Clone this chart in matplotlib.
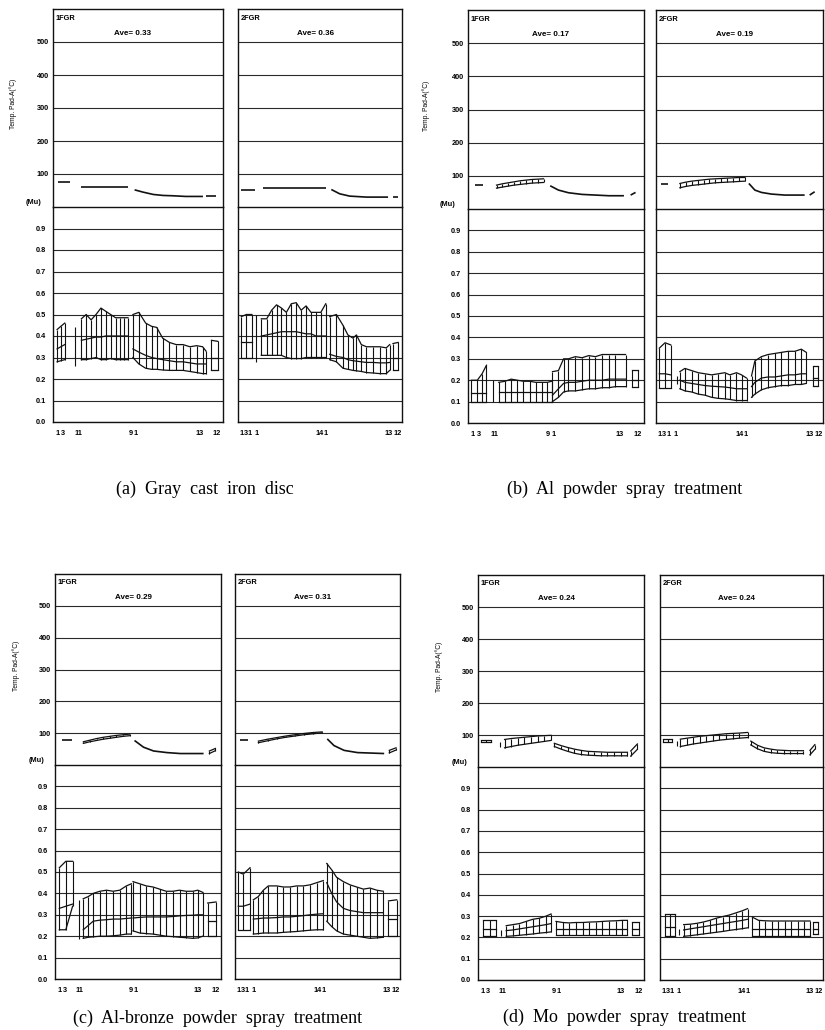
import matplotlib
matplotlib.use("Agg")
import matplotlib.pyplot as plt

# ---------------------------------------------------------------- data
# x: position along the test sequence (0-100 across each panel)
# hi / lo: band limits, mid: middle (mean) line; lo=None -> plain line

def S(x, hi, lo=None, mid=None):
    return dict(x=x, hi=hi, lo=lo, mid=mid)

TEMP_TICKS = [100, 200, 300, 400, 500]
MU_TICKS = [0.0, 0.1, 0.2, 0.3, 0.4, 0.5, 0.6, 0.7, 0.8, 0.9]
MU_LABELS = ['0.0', '0.1', '0.2', '0.3', '0.4', '0.5', '0.6', '0.7', '0.8', '0.9']
XT1 = [2.5, 6, 15, 45.5, 48.5, 86, 96.5]
XL1 = ['1', '3', '11', '9', '1', '13', '12']
XT2 = [2, 5, 7.3, 11.5, 50, 53.5, 92, 97.5]
XL2 = ['1', '3', '1', '1', '14', '1', '13', '12']
AVES = [['0.33', '0.36'], ['0.17', '0.19'], ['0.29', '0.31'], ['0.24', '0.24']]
CAPTIONS = ['(a)  Gray  cast  iron  disc', '(b)  Al  powder  spray  treatment',
            '(c)  Al-bronze  powder  spray  treatment', '(d)  Mo  powder  spray  treatment']

# (a) gray cast iron
A1_MU = [
    S([2.4, 4.6, 6.9], [0.43, 0.445, 0.46], [0.28, 0.285, 0.29], [0.34, 0.35, 0.36]),
    S([12.7], [0.44], [0.26]),
    S([16.7, 19.5, 22.4, 25.3, 28.2, 31.0, 33.9, 36.8, 39.6, 42.0, 44.1],
      [0.48, 0.50, 0.475, 0.50, 0.53, 0.515, 0.50, 0.485, 0.485, 0.485, 0.485],
      [0.29, 0.29, 0.295, 0.30, 0.29, 0.29, 0.295, 0.29, 0.29, 0.29, 0.29],
      [0.38, 0.385, 0.39, 0.395, 0.395, 0.40, 0.40, 0.40, 0.40, 0.40, 0.40]),
    S([47, 50.5, 54.5, 58, 61, 64.5, 68.5, 72.5, 76.5, 80.5, 84.5, 88, 90],
      [0.50, 0.51, 0.46, 0.445, 0.44, 0.39, 0.37, 0.36, 0.36, 0.35, 0.355, 0.35, 0.33],
      [0.30, 0.27, 0.25, 0.245, 0.245, 0.242, 0.24, 0.24, 0.24, 0.235, 0.23, 0.225, 0.225],
      [0.34, 0.325, 0.31, 0.30, 0.295, 0.29, 0.285, 0.28, 0.28, 0.275, 0.27, 0.27, 0.27]),
    S([93.2, 97], [0.38, 0.375], [0.24, 0.24], [0.30, 0.30]),
]
A1_T = [
    S([2.9, 9.8], [75, 75]),
    S([16.3, 44.1], [62, 62]),
    S([48, 53, 59, 64.8, 70.6, 78, 88.2], [52, 45, 38, 35, 34, 32, 32]),
    S([90, 96], [33, 33]),
]
A2_MU = [
    S([2, 5.1, 8.5], [0.49, 0.50, 0.50], [0.30, 0.30, 0.30], [0.37, 0.37, 0.37]),
    S([11.2], [0.50], [0.28]),
    S([14.2, 17.5, 20.5, 23.5, 26.5, 29.5, 32.5, 35.5, 38.5, 41.5, 44.5, 47.5, 50.5, 53.5],
      [0.48, 0.48, 0.52, 0.545, 0.53, 0.51, 0.55, 0.555, 0.52, 0.54, 0.51, 0.51, 0.51, 0.55],
      [0.31, 0.31, 0.31, 0.31, 0.31, 0.30, 0.295, 0.295, 0.295, 0.30, 0.30, 0.30, 0.30, 0.30],
      [0.40, 0.405, 0.41, 0.415, 0.42, 0.42, 0.42, 0.42, 0.415, 0.41, 0.41, 0.40, 0.40, 0.40]),
    S([55.9, 60, 64, 67, 70.1, 72.2, 75.2, 78.3, 82.3, 86.4, 90.4, 92.5],
      [0.49, 0.50, 0.45, 0.405, 0.39, 0.405, 0.36, 0.35, 0.35, 0.35, 0.345, 0.36],
      [0.29, 0.28, 0.25, 0.245, 0.24, 0.238, 0.235, 0.23, 0.228, 0.225, 0.225, 0.24],
      [0.315, 0.305, 0.30, 0.29, 0.285, 0.283, 0.28, 0.277, 0.277, 0.275, 0.275, 0.277]),
    S([94.5, 97.6], [0.365, 0.37], [0.24, 0.24], [0.30, 0.30]),
]
A2_T = [
    S([2, 10.2], [53, 53]),
    S([15.2, 53.9], [57, 57]),
    S([56.9, 62, 68.1, 78.3, 91.5], [53, 40, 33, 30, 30]),
    S([94.5, 97.6], [30, 30]),
]

# (b) Al powder spray
B1_MU = [
    S([1.9, 5.3, 8, 10.5], [0.2, 0.2, 0.23, 0.27], [0.1, 0.1, 0.1, 0.1], [0.14, 0.14, 0.14, 0.14]),
    S([14.3], [0.2], [0.1]),
    S([17.5, 21, 24.5, 28, 31.5, 35, 38.5, 42, 45, 47.6],
      [0.19, 0.195, 0.205, 0.20, 0.195, 0.195, 0.19, 0.19, 0.19, 0.195],
      [0.10, 0.10, 0.10, 0.10, 0.10, 0.10, 0.10, 0.10, 0.10, 0.10],
      [0.145, 0.145, 0.145, 0.145, 0.145, 0.145, 0.145, 0.145, 0.145, 0.145]),
    S([48, 51.4, 54.3, 57.1, 61, 64.8, 68.6, 72.4, 76.2, 80, 83.8, 89.5],
      [0.24, 0.245, 0.30, 0.30, 0.31, 0.305, 0.315, 0.31, 0.32, 0.32, 0.32, 0.32],
      [0.10, 0.12, 0.145, 0.15, 0.15, 0.155, 0.16, 0.16, 0.165, 0.165, 0.17, 0.17],
      [0.13, 0.16, 0.185, 0.19, 0.19, 0.195, 0.20, 0.20, 0.20, 0.205, 0.205, 0.205]),
    S([93.3, 96.6], [0.25, 0.25], [0.17, 0.17], [0.20, 0.20]),
]
B1_T = [
    S([3.8, 8.6], [72, 72]),
    S([16.2, 19.5, 22.8, 26.2, 29.5, 32.8, 36.2, 39.5, 42.9],
      [72, 76, 79, 82, 85, 87, 89, 90, 91], [63, 66, 69, 72, 74, 76, 78, 79, 80]),
    S([46.7, 51.4, 57.1, 64.8, 72.4, 80, 88.6], [70, 57, 49, 44, 42, 40, 40]),
    S([92.4, 95.2], [42, 50]),
]
B2_MU = [
    S([2, 5.4, 8.8], [0.35, 0.375, 0.365], [0.165, 0.165, 0.165], [0.23, 0.23, 0.225]),
    S([12.4], [0.22], [0.18]),
    S([14.3, 17.3, 21.3, 25.3, 29.3, 33.3, 37.3, 41.2, 44.2, 48.2, 51.2, 54.2],
      [0.24, 0.255, 0.245, 0.235, 0.23, 0.225, 0.23, 0.235, 0.225, 0.235, 0.225, 0.21],
      [0.16, 0.15, 0.145, 0.135, 0.13, 0.12, 0.115, 0.113, 0.11, 0.105, 0.105, 0.105],
      [0.20, 0.19, 0.185, 0.18, 0.175, 0.172, 0.17, 0.168, 0.165, 0.16, 0.16, 0.16]),
    S([57.2, 59.2, 63.1, 67.1, 71.1, 75.1, 79.1, 83.1, 87, 90],
      [0.22, 0.29, 0.31, 0.32, 0.325, 0.33, 0.335, 0.335, 0.345, 0.33],
      [0.12, 0.135, 0.155, 0.165, 0.17, 0.175, 0.175, 0.18, 0.18, 0.185],
      [0.17, 0.19, 0.21, 0.215, 0.215, 0.22, 0.225, 0.225, 0.23, 0.23]),
    S([94, 97], [0.265, 0.265], [0.175, 0.175], [0.21, 0.21]),
]
B2_T = [
    S([2.8, 7.4], [75, 75]),
    S([14.3, 17.8, 21.4, 24.9, 28.5, 32, 35.5, 39.1, 42.6, 46.2, 49.7, 53.2],
      [77, 81, 84, 86, 88, 90, 91, 92, 93, 94, 95, 95],
      [64, 68, 71, 73, 75, 77, 79, 80, 81, 82, 83, 84]),
    S([55.6, 59.2, 63.1, 69.1, 77.1, 89], [77, 57, 50, 45, 42, 42]),
    S([92, 95], [42, 52]),
]

# (c) Al-bronze powder spray
C1_MU = [
    S([2.6, 6.5, 10.6], [0.52, 0.55, 0.55], [0.23, 0.23, 0.34], [0.33, 0.34, 0.35]),
    S([14.6], [0.37], [0.185]),
    S([17, 20, 23, 27, 31, 35, 39, 43, 46],
      [0.375, 0.385, 0.40, 0.41, 0.415, 0.41, 0.415, 0.435, 0.445],
      [0.19, 0.195, 0.197, 0.20, 0.20, 0.202, 0.205, 0.21, 0.21],
      [0.23, 0.25, 0.27, 0.275, 0.277, 0.28, 0.28, 0.283, 0.285]),
    S([47, 51, 55, 59, 63, 67, 71, 75, 79, 83, 86, 89],
      [0.455, 0.445, 0.435, 0.43, 0.42, 0.41, 0.41, 0.415, 0.41, 0.41, 0.415, 0.405],
      [0.225, 0.215, 0.212, 0.21, 0.205, 0.20, 0.198, 0.195, 0.193, 0.19, 0.192, 0.20],
      [0.285, 0.288, 0.29, 0.29, 0.29, 0.29, 0.292, 0.295, 0.297, 0.298, 0.30, 0.30]),
    S([92, 97], [0.355, 0.36], [0.20, 0.20], [0.27, 0.27]),
]
C1_T = [
    S([4, 10], [78, 78]),
    S([17.1, 21, 25, 29, 33, 37, 41, 44.9],
      [73, 78, 83, 87, 90, 93, 95, 97], [68, 73, 77, 81, 84, 87, 90, 92]),
    S([47.9, 53.3, 59.4, 67.4, 75.5, 89.5], [77, 56, 44, 39, 36, 36]),
    S([93, 96.6], [44, 52], [36, 45]),
]
C2_MU = [
    S([2, 5, 9.1], [0.50, 0.49, 0.52], [0.23, 0.23, 0.23], [0.34, 0.34, 0.35]),
    S([11.1, 14.1, 17.2, 20.2, 25.3, 29.3, 33.3, 37.4, 41.4, 45.5, 49.5, 53.5],
      [0.37, 0.385, 0.415, 0.435, 0.435, 0.43, 0.43, 0.435, 0.435, 0.44, 0.45, 0.46],
      [0.21, 0.212, 0.215, 0.215, 0.215, 0.218, 0.22, 0.222, 0.225, 0.228, 0.23, 0.23],
      [0.28, 0.282, 0.285, 0.285, 0.287, 0.29, 0.29, 0.293, 0.296, 0.30, 0.303, 0.305]),
    S([55.6, 58.6, 61.6, 65.7, 69.7, 73.7, 77.8, 81.8, 85.9, 89.9],
      [0.54, 0.51, 0.475, 0.455, 0.44, 0.43, 0.42, 0.425, 0.415, 0.41],
      [0.27, 0.245, 0.225, 0.21, 0.205, 0.20, 0.195, 0.19, 0.192, 0.195],
      [0.45, 0.40, 0.36, 0.33, 0.32, 0.315, 0.31, 0.31, 0.31, 0.31]),
    S([93, 98], [0.365, 0.37], [0.20, 0.20], [0.28, 0.28]),
]
C2_T = [
    S([3, 8.1], [78, 78]),
    S([14.2, 19.7, 25.2, 30.7, 36.2, 41.7, 47.2, 52.8],
      [75, 81, 86, 91, 95, 99, 102, 104], [70, 76, 82, 87, 91, 95, 98, 101]),
    S([55.9, 60, 66.1, 74.2, 90.4], [82, 61, 46, 39, 36]),
    S([93.5, 97.6], [46, 54], [38, 47]),
]

# (d) Mo powder spray
D1_MU = [
    S([3, 7, 11], [0.28, 0.28, 0.28], [0.205, 0.205, 0.205], [0.24, 0.24, 0.24]),
    S([13.6], [0.235], [0.205]),
    S([17, 21, 25, 29, 33, 37, 41, 44],
      [0.255, 0.26, 0.265, 0.275, 0.285, 0.29, 0.30, 0.31],
      [0.205, 0.207, 0.21, 0.213, 0.216, 0.22, 0.223, 0.226],
      [0.232, 0.235, 0.24, 0.245, 0.25, 0.255, 0.26, 0.265]),
    S([47, 51, 55, 59, 63, 67, 71, 75, 79, 83, 87, 90],
      [0.275, 0.27, 0.268, 0.27, 0.27, 0.272, 0.273, 0.275, 0.277, 0.278, 0.28, 0.28],
      [0.21, 0.21, 0.21, 0.21, 0.21, 0.21, 0.21, 0.21, 0.21, 0.21, 0.21, 0.21],
      [0.24, 0.24, 0.24, 0.24, 0.24, 0.24, 0.24, 0.24, 0.24, 0.24, 0.24, 0.24]),
    S([93, 97], [0.27, 0.27], [0.21, 0.21], [0.24, 0.24]),
]
D1_T = [
    S([2, 5, 8], [84, 84, 84], [77, 77, 77]),
    S([13], [79], [64]),
    S([16, 20, 24, 28, 32, 36, 40, 44],
      [86, 89, 91, 93, 95, 97, 98, 99], [60, 64, 68, 71, 74, 77, 80, 83]),
    S([46, 50, 54, 58, 62, 66, 70, 74, 78, 82, 86, 90],
      [74, 67, 61, 56, 52, 49, 48, 47, 46, 46, 46, 46],
      [64, 56, 49, 43, 39, 37, 36, 35, 35, 35, 35, 35]),
    S([92, 96], [50, 72], [34, 55]),
]
D2_MU = [
    S([3, 6.3, 9.5], [0.31, 0.31, 0.31], [0.205, 0.205, 0.205], [0.25, 0.25, 0.25]),
    S([11.5], [0.24], [0.21]),
    S([14.5, 18.5, 22.5, 26.5, 30.5, 34.5, 38.5, 42.5, 46.5, 50.5, 53.7],
      [0.26, 0.262, 0.266, 0.272, 0.28, 0.29, 0.298, 0.305, 0.315, 0.325, 0.335],
      [0.205, 0.208, 0.212, 0.216, 0.22, 0.224, 0.228, 0.233, 0.237, 0.241, 0.245],
      [0.235, 0.24, 0.245, 0.25, 0.255, 0.26, 0.265, 0.27, 0.275, 0.28, 0.285]),
    S([56.7, 60.5, 64.5, 68.5, 72.5, 76.5, 80.5, 84.5, 88.5, 92],
      [0.295, 0.28, 0.278, 0.277, 0.277, 0.277, 0.277, 0.277, 0.277, 0.277],
      [0.205, 0.205, 0.205, 0.205, 0.205, 0.205, 0.205, 0.205, 0.205, 0.205],
      [0.24, 0.24, 0.24, 0.24, 0.24, 0.24, 0.24, 0.24, 0.24, 0.24]),
    S([94, 97], [0.27, 0.27], [0.215, 0.215], [0.24, 0.24]),
]
D2_T = [
    S([2, 4.7, 7.4], [86, 86, 86], [77, 77, 77]),
    S([10.5], [80], [65]),
    S([12.5, 16.5, 20.5, 24.5, 28.5, 32.5, 36.5, 40.5, 44.5, 48.5, 53.7],
      [87, 90, 93, 96, 98, 100, 102, 104, 105, 106, 108],
      [64, 68, 72, 75, 78, 81, 84, 86, 88, 90, 92]),
    S([55.7, 59.8, 63.8, 67.8, 71.8, 75.8, 79.8, 83.8, 88],
      [81, 68, 60, 56, 53, 52, 51, 51, 51],
      [69, 57, 49, 45, 43, 42, 42, 42, 42]),
    S([92, 95], [52, 70], [38, 55]),
]

# ---------------------------------------------------------------- layout
W, H = 825, 1030
fig = plt.figure(figsize=(W / 100, H / 100), dpi=100)
fig.patch.set_facecolor('white')

SANS = 'Liberation Sans'
FS = 5.3
INK = '#111111'

# (x0, x1, ytop, ymu, ybot) in pixels
LAYOUT = [
    [(53, 223, 9, 207, 422), (238, 402, 9, 207, 422)],
    [(468, 644, 10, 209, 423), (656, 823, 10, 209, 423)],
    [(55, 221, 574, 765, 979), (235, 400, 574, 765, 979)],
    [(478, 644, 575, 767, 980), (660, 823, 575, 767, 980)],
]
CAP_POS = [(205, 489), (625, 489), (218, 1018), (625, 1017)]
DATA = [[(A1_T, A1_MU), (A2_T, A2_MU)], [(B1_T, B1_MU), (B2_T, B2_MU)],
        [(C1_T, C1_MU), (C2_T, C2_MU)], [(D1_T, D1_MU), (D2_T, D2_MU)]]


def px_axes(x0, x1, y0, y1):
    return fig.add_axes([x0 / W, 1 - y1 / H, (x1 - x0) / W, (y1 - y0) / H])


def draw_seg(ax, s):
    x, hi, lo, mid = s['x'], s['hi'], s['lo'], s['mid']
    if lo is None:
        ax.plot(x, hi, color=INK, lw=1.2, solid_capstyle='butt')
        return
    ax.vlines(x, lo, hi, color=INK, lw=0.8)
    if len(x) > 1:
        ax.plot(x, hi, color=INK, lw=0.9)
        ax.plot(x, lo, color=INK, lw=0.9)
        if mid is not None:
            ax.plot(x, mid, color=INK, lw=0.9)


def style_ax(ax):
    ax.set_xlim(0, 100)
    ax.set_facecolor('none')
    for sp in ax.spines.values():
        sp.set_linewidth(1.0)
        sp.set_color(INK)
    ax.tick_params(length=0, labelsize=FS)


for fi in range(4):
    for pi in range(2):
        x0, x1, yt, ym, yb = LAYOUT[fi][pi]
        tsegs, msegs = DATA[fi][pi]
        axT = px_axes(x0, x1, yt, ym)
        axM = px_axes(x0, x1, ym, yb)
        style_ax(axT)
        style_ax(axM)
        axT.set_ylim(0, 600)
        axM.set_ylim(0, 1.0)
        axT.spines['bottom'].set_visible(False)
        axT.set_yticks(TEMP_TICKS)
        axM.set_yticks(MU_TICKS)
        axT.grid(axis='y', color='#2a2a2a', lw=0.8)
        axM.grid(axis='y', color='#2a2a2a', lw=0.8)
        axT.set_xticks([])
        if pi == 0:
            axM.set_xticks(XT1, XL1)
        else:
            axM.set_xticks(XT2, XL2)
        axM.tick_params(axis='x', pad=6)
        for ax in (axT, axM):
            for lab in ax.get_xticklabels() + ax.get_yticklabels():
                lab.set_fontfamily(SANS)
                lab.set_fontweight('bold')
        if pi == 0:
            axT.set_yticklabels([str(t) for t in TEMP_TICKS])
            axM.set_yticklabels(MU_LABELS)
            axT.tick_params(axis='y', pad=3)
            axM.tick_params(axis='y', pad=5)
            axT.text(-0.235, 0.52, 'Temp. Pad-A(°C)', rotation=90, transform=axT.transAxes,
                     ha='center', va='center', fontsize=FS - 0.5, family=SANS)
            axM.text(-0.16, 1.02, '(Mu)', transform=axM.transAxes, ha='left', va='center',
                     fontsize=FS, family=SANS, fontweight='bold')
        else:
            axT.set_yticklabels([])
            axM.set_yticklabels([])
        for s in tsegs:
            draw_seg(axT, s)
        for s in msegs:
            draw_seg(axM, s)
        axT.text(1.5, 572, '%dFGR' % (pi + 1), ha='left', va='center', fontsize=FS,
                 family=SANS, fontweight='bold')
        axT.text(47, 527, 'Ave= ' + AVES[fi][pi], ha='center', va='center', fontsize=FS + 0.5,
                 family=SANS, fontweight='bold')

    cx, cy = CAP_POS[fi]
    fig.text(cx / W, 1 - cy / H, CAPTIONS[fi], ha='center', va='center',
             fontsize=13, family='Liberation Serif')

fig.savefig('out.png', dpi=100, facecolor='white')
